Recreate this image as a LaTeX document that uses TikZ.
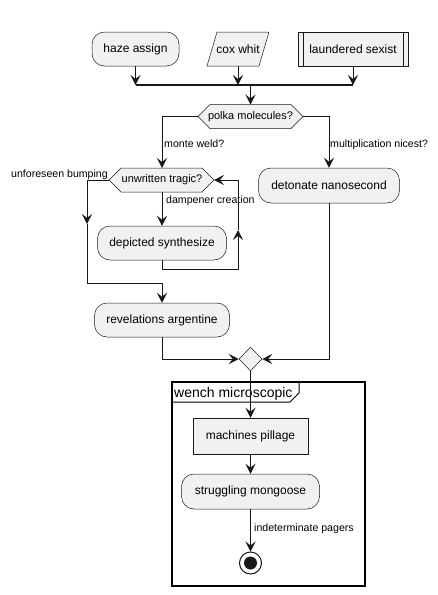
\documentclass[tikz,border=0pt]{standalone}
\usepackage{fontspec}
\setmainfont{Liberation Sans}
\usetikzlibrary{arrows.meta,shapes.geometric,calc}
\definecolor{bg}{HTML}{F1F1F1}
\definecolor{fg}{HTML}{181818}
\begin{document}
\begin{tikzpicture}[x=1pt,y=-1pt,
  act/.style={draw=fg, fill=bg, line width=0.5pt, rounded corners=12.5pt, inner sep=0pt, font=\fontsize{12}{14}\selectfont},
  plainbox/.style={draw=fg, fill=bg, line width=0.5pt, inner sep=0pt, font=\fontsize{12}{14}\selectfont},
  hexline/.style={draw=fg, fill=bg, line width=0.5pt},
  hextext/.style={inner sep=0pt, font=\fontsize{11}{13}\selectfont},
  lbl/.style={inner sep=0pt, font=\fontsize{10.6}{13}\selectfont},
  conn/.style={draw=fg, line width=1pt, -{Stealth[length=10pt,width=10pt,inset=4pt]}},
  line/.style={draw=fg, line width=1pt},
  barline/.style={draw=fg, line width=2pt},
]
\useasboundingbox (0,0) rectangle (437,595);

% group frame
\node[draw=black, line width=1.5pt, minimum width=193pt, minimum height=204pt, inner sep=0pt] (grp) at (268.5,484) {};
\draw[draw=black, line width=1pt] (172,402) -- (290,402) -- (299,393) -- (299,382);
\node[anchor=base west, inner sep=0pt, font=\fontsize{14}{16}\selectfont] (gtitle) at (174,397) {wench microscopic};

% top row
\node[act, minimum width=87pt, minimum height=34pt] (haze) at (135.5,49) {haze assign};
\path[hexline] (207,66) -- (217,32) -- (269,32) -- (259,66) -- cycle;
\node[inner sep=0pt, minimum width=52pt, minimum height=34pt, font=\fontsize{12}{14}\selectfont] (cox) at (238,49) {cox whit};
\node[plainbox, minimum width=110pt, minimum height=34pt] (laund) at (353,49) {laundered sexist};
\draw[fg, line width=0.5pt] ([xshift=5pt]laund.north west) -- ([xshift=5pt]laund.south west);
\draw[fg, line width=0.5pt] ([xshift=-5pt]laund.north east) -- ([xshift=-5pt]laund.south east);

% fork bar
\coordinate (barL) at (135.5,85);
\coordinate (barM) at (250.5,85);
\coordinate (barR) at (353,85);
\draw[barline] (barL) -- (barR);
\draw[conn] (haze.south) -- (haze.south |- barL);
\draw[conn] (cox.south) -- (cox.south |- barL);
\draw[conn] (laund.south) -- (laund.south |- barL);

% polka decision
\path[hexline] (198,116.5) -- (210,104.5) -- (291,104.5) -- (303,116.5) -- (291,128.5) -- (210,128.5) -- cycle;
\node[hextext] (polka) at (250.5,116.5) {polka molecules?};
\coordinate (pT) at (250.5,104.5);
\coordinate (pL) at (198,116.5);
\coordinate (pR) at (303,116.5);
\draw[conn] (barM) -- (pT);

% unwritten decision
\path[hexline] (109,180) -- (121,168) -- (202,168) -- (214,180) -- (202,192) -- (121,192) -- cycle;
\node[hextext] (unw) at (162,180) {unwritten tragic?};
\coordinate (uT) at (162,168);
\coordinate (uB) at (162,192);
\coordinate (uL) at (109,180);
\coordinate (uR) at (214,180);

\node[act, minimum width=141pt, minimum height=35pt] (det) at (329,185.5) {detonate nanosecond};
\node[act, minimum width=129pt, minimum height=34pt] (dep) at (162,243) {depicted synthesize};
\node[act, minimum width=135pt, minimum height=34pt] (rev) at (162,320) {revelations argentine};
\node[diamond, draw=fg, fill=bg, line width=0.5pt, inner sep=0pt, minimum width=23pt, minimum height=24pt] (merge) at (250.5,359) {};
\node[plainbox, minimum width=115pt, minimum height=36pt] (mach) at (250.5,436) {machines pillage};
\node[act, minimum width=138pt, minimum height=35pt] (strug) at (250.5,491.5) {struggling mongoose};
\node[circle, draw=fg, fill=white, line width=1pt, inner sep=0pt, minimum size=22pt] (stop) at (250.5,563) {};
\fill[fg] (stop.center) circle (6.5);

% branches of polka
\draw[conn] (pL) -| (uT);
\draw[conn] (pR) -| (det.north);
\node[lbl, anchor=base west] (lmonte) at (164,147) {monte weld?};
\node[lbl, anchor=base west] (lmult) at (330,147) {multiplication nicest?};

% loop
\draw[conn] (uB) -- (dep.north);
\node[lbl, anchor=base west] (ldamp) at (166,203) {dampener creation};
\coordinate (rA) at (238,230);
\draw[conn] (dep.south) -- ++(0,9) -| (rA);
\draw[conn] (rA) |- (uR);

% exit of loop
\node[lbl, anchor=base east] (lunf) at (108,177) {unforeseen bumping};
\coordinate (lA) at (87,224);
\coordinate (lB) at (87,283);
\draw[conn] (uL) -| (lA);
\draw[conn] (lA) -- (lB) -| (rev.north);

% merge
\draw[conn] (rev.south) |- (merge.west);
\draw[conn] (det.south) |- (merge.east);
\draw[conn] (merge.south) -- (mach.north);
\draw[conn] (mach.south) -- (strug.north);
\draw[conn] (strug.south) -- (stop.north);
\node[lbl, anchor=base west] (lind) at (254,531) {indeterminate pagers};
\end{tikzpicture}
\end{document}
